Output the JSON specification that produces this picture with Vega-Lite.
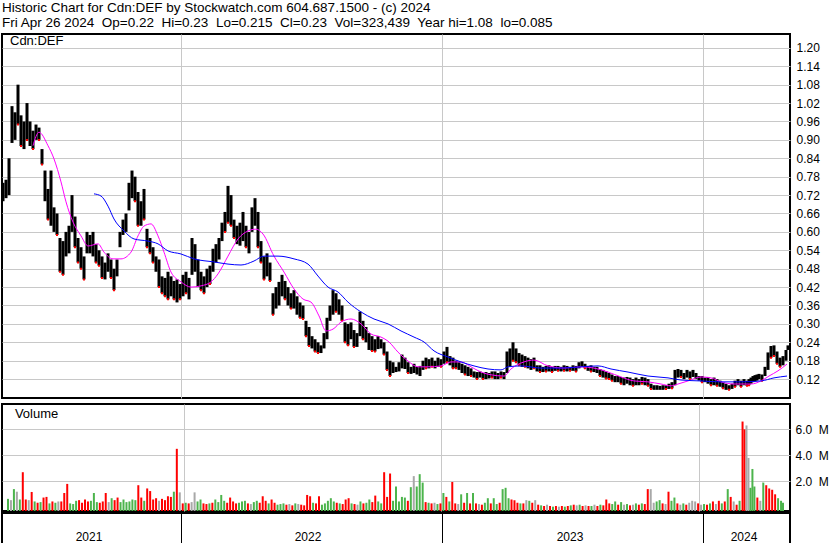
{
"$schema": "https://vega.github.io/schema/vega-lite/v6.json",
"background": "white",
"padding": {"left": 1, "top": 1, "right": 0, "bottom": 0},
"autosize": {"type": "pad"},
"config": {"view": {"stroke": "black", "strokeWidth": 2}, "font": "Liberation Sans", "axis": {"labelOverlap": false, "labelBound": false}},
"title": {"text": "Historic Chart for Cdn:DEF by Stockwatch.com 604.687.1500 - (c) 2024", "subtitle": "Fri Apr 26 2024\u00a0 Op=0.22\u00a0 Hi=0.23\u00a0 Lo=0.215\u00a0 Cl=0.23\u00a0 Vol=323,439\u00a0 Year hi=1.08\u00a0 lo=0.085", "anchor": "start", "frame": "bounds", "offset": 4, "fontSize": 13.5, "subtitleFontSize": 13.5, "fontWeight": "normal", "subtitleFontWeight": "normal", "color": "black", "subtitleColor": "black", "font": "Liberation Sans", "subtitleFont": "Liberation Sans", "subtitlePadding": 1, "dx": 1},
"datasets": {
"p": [
{"t":0,"h":0.76,"l":0.7,"v":0.65,"s":"u"},{"t":3,"h":0.77,"l":0.71,"v":0.55,"s":"n"},{"t":6,"h":0.84,"l":0.72,"v":1.4,"s":"u"},{"t":9,"h":1.01,"l":0.89,"v":1.2,"s":"n"},{"t":12,"h":0.99,"l":0.9,"v":0.6,"s":"u"},{"t":15,"h":1.08,"l":0.95,"v":2.7,"s":"d"},{"t":18,"h":0.98,"l":0.88,"v":0.6,"s":"d"},{"t":21,"h":0.96,"l":0.87,"v":0.55,"s":"n"},{"t":24,"h":1.02,"l":0.9,"v":1.18,"s":"d"},{"t":27,"h":0.96,"l":0.88,"v":0.45,"s":"u"},
{"t":30,"h":0.93,"l":0.87,"v":0.35,"s":"d"},{"t":33,"h":0.95,"l":0.9,"v":0.4,"s":"u"},{"t":36,"h":0.94,"l":0.9,"v":0.75,"s":"d"},{"t":39,"h":0.87,"l":0.82,"v":0.8,"s":"d"},{"t":42,"h":0.8,"l":0.7,"v":0.3,"s":"u"},{"t":45,"h":0.74,"l":0.64,"v":0.45,"s":"d"},{"t":48,"h":0.8,"l":0.62,"v":0.35,"s":"u"},{"t":51,"h":0.68,"l":0.6,"v":0.45,"s":"n"},{"t":54,"h":0.66,"l":0.59,"v":0.45,"s":"d"},{"t":57,"h":0.58,"l":0.47,"v":1.1,"s":"d"},
{"t":60,"h":0.57,"l":0.46,"v":1.8,"s":"d"},{"t":63,"h":0.6,"l":0.52,"v":0.3,"s":"u"},{"t":66,"h":0.62,"l":0.53,"v":0.25,"s":"u"},{"t":69,"h":0.72,"l":0.6,"v":0.5,"s":"u"},{"t":72,"h":0.65,"l":0.55,"v":0.55,"s":"d"},{"t":75,"h":0.58,"l":0.5,"v":0.35,"s":"d"},{"t":78,"h":0.55,"l":0.48,"v":0.6,"s":"d"},{"t":81,"h":0.52,"l":0.445,"v":0.45,"s":"d"},{"t":84,"h":0.6,"l":0.53,"v":0.5,"s":"u"},{"t":87,"h":0.59,"l":0.53,"v":1.1,"s":"u"},
{"t":90,"h":0.6,"l":0.52,"v":0.4,"s":"u"},{"t":93,"h":0.56,"l":0.5,"v":0.35,"s":"d"},{"t":96,"h":0.54,"l":0.49,"v":0.45,"s":"d"},{"t":99,"h":0.52,"l":0.45,"v":1.1,"s":"d"},{"t":102,"h":0.5,"l":0.445,"v":0.4,"s":"n"},{"t":105,"h":0.53,"l":0.47,"v":0.7,"s":"u"},{"t":108,"h":0.51,"l":0.45,"v":0.55,"s":"d"},{"t":111,"h":0.48,"l":0.41,"v":0.75,"s":"d"},{"t":114,"h":0.51,"l":0.455,"v":0.4,"s":"u"},{"t":117,"h":0.6,"l":0.55,"v":0.6,"s":"u"},
{"t":120,"h":0.64,"l":0.59,"v":0.4,"s":"u"},{"t":123,"h":0.66,"l":0.6,"v":0.45,"s":"u"},{"t":126,"h":0.76,"l":0.67,"v":0.6,"s":"u"},{"t":129,"h":0.8,"l":0.71,"v":0.55,"s":"u"},{"t":132,"h":0.78,"l":0.7,"v":1.7,"s":"d"},{"t":135,"h":0.73,"l":0.62,"v":0.75,"s":"d"},{"t":138,"h":0.7,"l":0.62,"v":0.5,"s":"u"},{"t":141,"h":0.74,"l":0.64,"v":1.45,"s":"d"},{"t":144,"h":0.61,"l":0.55,"v":1.25,"s":"d"},{"t":147,"h":0.58,"l":0.53,"v":0.6,"s":"d"},
{"t":150,"h":0.55,"l":0.5,"v":0.7,"s":"d"},{"t":153,"h":0.52,"l":0.47,"v":0.5,"s":"n"},{"t":156,"h":0.51,"l":0.42,"v":0.65,"s":"d"},{"t":159,"h":0.455,"l":0.4,"v":0.55,"s":"d"},{"t":162,"h":0.45,"l":0.39,"v":0.85,"s":"d"},{"t":165,"h":0.47,"l":0.38,"v":0.8,"s":"d"},{"t":168,"h":0.455,"l":0.39,"v":1.2,"s":"u"},{"t":171,"h":0.44,"l":0.38,"v":4.5,"s":"d"},{"t":174,"h":0.445,"l":0.37,"v":1.15,"s":"n"},{"t":177,"h":0.43,"l":0.38,"v":0.3,"s":"d"},
{"t":180,"h":0.46,"l":0.39,"v":0.35,"s":"u"},{"t":183,"h":0.47,"l":0.4,"v":0.3,"s":"d"},{"t":186,"h":0.45,"l":0.38,"v":0.4,"s":"n"},{"t":189,"h":0.58,"l":0.46,"v":1.15,"s":"n"},{"t":192,"h":0.56,"l":0.47,"v":0.45,"s":"u"},{"t":195,"h":0.51,"l":0.42,"v":0.6,"s":"u"},{"t":198,"h":0.47,"l":0.41,"v":0.3,"s":"d"},{"t":201,"h":0.455,"l":0.4,"v":0.25,"s":"d"},{"t":204,"h":0.48,"l":0.42,"v":0.3,"s":"u"},{"t":207,"h":0.49,"l":0.43,"v":0.35,"s":"d"},
{"t":210,"h":0.545,"l":0.47,"v":0.6,"s":"u"},{"t":213,"h":0.56,"l":0.5,"v":0.4,"s":"u"},{"t":216,"h":0.58,"l":0.51,"v":0.95,"s":"u"},{"t":219,"h":0.63,"l":0.57,"v":0.5,"s":"u"},{"t":222,"h":0.665,"l":0.6,"v":0.35,"s":"d"},{"t":225,"h":0.75,"l":0.63,"v":0.75,"s":"d"},{"t":228,"h":0.72,"l":0.62,"v":0.45,"s":"d"},{"t":231,"h":0.64,"l":0.58,"v":0.3,"s":"d"},{"t":234,"h":0.62,"l":0.56,"v":0.35,"s":"u"},{"t":237,"h":0.63,"l":0.555,"v":0.45,"s":"u"},
{"t":240,"h":0.665,"l":0.57,"v":0.5,"s":"u"},{"t":243,"h":0.62,"l":0.55,"v":0.3,"s":"d"},{"t":246,"h":0.6,"l":0.53,"v":0.25,"s":"n"},{"t":249,"h":0.68,"l":0.6,"v":0.4,"s":"u"},{"t":252,"h":0.71,"l":0.62,"v":0.5,"s":"u"},{"t":255,"h":0.665,"l":0.55,"v":0.35,"s":"d"},{"t":258,"h":0.57,"l":0.5,"v":0.85,"s":"d"},{"t":261,"h":0.52,"l":0.445,"v":0.5,"s":"d"},{"t":264,"h":0.53,"l":0.455,"v":0.3,"s":"u"},{"t":267,"h":0.5,"l":0.44,"v":0.6,"s":"d"},
{"t":270,"h":0.4,"l":0.33,"v":0.35,"s":"d"},{"t":273,"h":0.42,"l":0.35,"v":0.2,"s":"u"},{"t":276,"h":0.437,"l":0.36,"v":0.25,"s":"u"},{"t":279,"h":0.46,"l":0.39,"v":0.3,"s":"u"},{"t":282,"h":0.44,"l":0.38,"v":0.2,"s":"d"},{"t":285,"h":0.42,"l":0.36,"v":0.25,"s":"n"},{"t":288,"h":0.4,"l":0.35,"v":0.15,"s":"d"},{"t":291,"h":0.41,"l":0.35,"v":0.3,"s":"u"},{"t":294,"h":0.39,"l":0.33,"v":0.25,"s":"n"},{"t":297,"h":0.37,"l":0.32,"v":0.2,"s":"d"},
{"t":300,"h":0.36,"l":0.316,"v":0.15,"s":"d"},{"t":303,"h":0.31,"l":0.26,"v":0.95,"s":"d"},{"t":306,"h":0.29,"l":0.228,"v":0.85,"s":"d"},{"t":309,"h":0.26,"l":0.22,"v":0.35,"s":"u"},{"t":312,"h":0.25,"l":0.21,"v":0.3,"s":"d"},{"t":315,"h":0.24,"l":0.205,"v":0.85,"s":"d"},{"t":318,"h":0.23,"l":0.205,"v":0.2,"s":"u"},{"t":321,"h":0.27,"l":0.22,"v":0.3,"s":"u"},{"t":324,"h":0.32,"l":0.25,"v":0.5,"s":"u"},{"t":327,"h":0.36,"l":0.31,"v":0.7,"s":"u"},
{"t":330,"h":0.41,"l":0.33,"v":0.45,"s":"u"},{"t":333,"h":0.4,"l":0.34,"v":0.35,"s":"d"},{"t":336,"h":0.38,"l":0.33,"v":0.3,"s":"u"},{"t":339,"h":0.36,"l":0.31,"v":0.25,"s":"d"},{"t":342,"h":0.305,"l":0.24,"v":0.6,"s":"d"},{"t":345,"h":0.3,"l":0.23,"v":0.7,"s":"d"},{"t":348,"h":0.305,"l":0.25,"v":0.3,"s":"u"},{"t":351,"h":0.28,"l":0.225,"v":0.25,"s":"d"},{"t":354,"h":0.27,"l":0.225,"v":0.2,"s":"n"},{"t":357,"h":0.34,"l":0.26,"v":0.45,"s":"u"},
{"t":360,"h":0.31,"l":0.25,"v":0.3,"s":"d"},{"t":363,"h":0.29,"l":0.24,"v":0.35,"s":"u"},{"t":366,"h":0.27,"l":0.215,"v":0.6,"s":"u"},{"t":369,"h":0.26,"l":0.212,"v":0.4,"s":"d"},{"t":372,"h":0.25,"l":0.21,"v":0.9,"s":"d"},{"t":375,"h":0.26,"l":0.218,"v":0.45,"s":"u"},{"t":378,"h":0.25,"l":0.22,"v":0.3,"s":"u"},{"t":381,"h":0.24,"l":0.2,"v":2.7,"s":"d"},{"t":384,"h":0.21,"l":0.15,"v":0.8,"s":"d"},{"t":387,"h":0.18,"l":0.13,"v":2.6,"s":"d"},
{"t":390,"h":0.175,"l":0.14,"v":0.5,"s":"u"},{"t":393,"h":0.16,"l":0.143,"v":1.6,"s":"u"},{"t":396,"h":0.175,"l":0.145,"v":0.45,"s":"u"},{"t":399,"h":0.2,"l":0.155,"v":0.8,"s":"u"},{"t":402,"h":0.19,"l":0.153,"v":0.75,"s":"u"},{"t":405,"h":0.175,"l":0.14,"v":0.5,"s":"d"},{"t":408,"h":0.16,"l":0.137,"v":1.55,"s":"u"},{"t":411,"h":0.17,"l":0.14,"v":2.4,"s":"n"},{"t":414,"h":0.16,"l":0.135,"v":1.6,"s":"u"},{"t":417,"h":0.163,"l":0.13,"v":2.55,"s":"u"},
{"t":420,"h":0.18,"l":0.15,"v":1.9,"s":"u"},{"t":423,"h":0.19,"l":0.155,"v":0.4,"s":"d"},{"t":426,"h":0.185,"l":0.155,"v":0.35,"s":"u"},{"t":429,"h":0.19,"l":0.16,"v":0.3,"s":"d"},{"t":432,"h":0.18,"l":0.155,"v":0.35,"s":"n"},{"t":435,"h":0.19,"l":0.16,"v":0.25,"s":"u"},{"t":438,"h":0.185,"l":0.16,"v":0.3,"s":"d"},{"t":441,"h":0.21,"l":0.17,"v":1.1,"s":"u"},{"t":444,"h":0.225,"l":0.175,"v":0.8,"s":"d"},{"t":447,"h":0.195,"l":0.165,"v":0.45,"s":"u"},
{"t":450,"h":0.19,"l":0.155,"v":1.95,"s":"d"},{"t":453,"h":0.18,"l":0.155,"v":0.3,"s":"d"},{"t":456,"h":0.175,"l":0.15,"v":0.25,"s":"n"},{"t":459,"h":0.17,"l":0.14,"v":1.0,"s":"u"},{"t":462,"h":0.165,"l":0.135,"v":0.35,"s":"d"},{"t":465,"h":0.16,"l":0.13,"v":1.1,"s":"u"},{"t":468,"h":0.155,"l":0.13,"v":0.3,"s":"d"},{"t":471,"h":0.145,"l":0.125,"v":1.1,"s":"u"},{"t":474,"h":0.143,"l":0.12,"v":0.3,"s":"d"},{"t":477,"h":0.145,"l":0.125,"v":0.25,"s":"n"},
{"t":480,"h":0.14,"l":0.12,"v":0.2,"s":"d"},{"t":483,"h":0.143,"l":0.12,"v":0.35,"s":"u"},{"t":486,"h":0.14,"l":0.122,"v":0.7,"s":"u"},{"t":489,"h":0.145,"l":0.125,"v":0.3,"s":"d"},{"t":492,"h":0.145,"l":0.12,"v":0.7,"s":"u"},{"t":495,"h":0.14,"l":0.12,"v":0.25,"s":"u"},{"t":498,"h":0.145,"l":0.125,"v":0.35,"s":"d"},{"t":501,"h":0.143,"l":0.12,"v":1.4,"s":"u"},{"t":504,"h":0.21,"l":0.14,"v":1.5,"s":"u"},{"t":507,"h":0.22,"l":0.16,"v":0.7,"s":"u"},
{"t":510,"h":0.24,"l":0.18,"v":0.6,"s":"d"},{"t":513,"h":0.22,"l":0.175,"v":0.55,"s":"d"},{"t":516,"h":0.205,"l":0.165,"v":0.35,"s":"d"},{"t":519,"h":0.2,"l":0.16,"v":0.3,"s":"u"},{"t":522,"h":0.195,"l":0.16,"v":0.3,"s":"d"},{"t":525,"h":0.19,"l":0.155,"v":0.55,"s":"n"},{"t":528,"h":0.185,"l":0.15,"v":0.5,"s":"u"},{"t":531,"h":0.19,"l":0.155,"v":0.35,"s":"d"},{"t":534,"h":0.165,"l":0.145,"v":0.55,"s":"n"},{"t":537,"h":0.165,"l":0.143,"v":0.2,"s":"d"},
{"t":540,"h":0.16,"l":0.143,"v":0.15,"s":"u"},{"t":543,"h":0.163,"l":0.145,"v":0.1,"s":"d"},{"t":546,"h":0.165,"l":0.145,"v":0.2,"s":"n"},{"t":549,"h":0.16,"l":0.143,"v":0.1,"s":"d"},{"t":552,"h":0.163,"l":0.147,"v":0.05,"s":"u"},{"t":555,"h":0.163,"l":0.147,"v":0.1,"s":"d"},{"t":558,"h":0.16,"l":0.145,"v":0.05,"s":"n"},{"t":561,"h":0.165,"l":0.147,"v":0.1,"s":"d"},{"t":564,"h":0.163,"l":0.145,"v":0.05,"s":"u"},{"t":567,"h":0.16,"l":0.147,"v":0.1,"s":"d"},
{"t":570,"h":0.165,"l":0.147,"v":0.15,"s":"u"},{"t":573,"h":0.163,"l":0.145,"v":0.2,"s":"d"},{"t":576,"h":0.175,"l":0.155,"v":0.15,"s":"n"},{"t":579,"h":0.178,"l":0.16,"v":0.2,"s":"u"},{"t":582,"h":0.17,"l":0.155,"v":0.1,"s":"d"},{"t":585,"h":0.163,"l":0.147,"v":0.15,"s":"n"},{"t":588,"h":0.165,"l":0.145,"v":0.1,"s":"d"},{"t":591,"h":0.16,"l":0.143,"v":0.1,"s":"u"},{"t":594,"h":0.16,"l":0.14,"v":0.2,"s":"n"},{"t":597,"h":0.153,"l":0.13,"v":0.1,"s":"d"},
{"t":600,"h":0.15,"l":0.125,"v":0.2,"s":"u"},{"t":603,"h":0.145,"l":0.122,"v":0.15,"s":"d"},{"t":606,"h":0.14,"l":0.12,"v":0.6,"s":"d"},{"t":609,"h":0.135,"l":0.115,"v":0.3,"s":"d"},{"t":612,"h":0.13,"l":0.11,"v":0.25,"s":"u"},{"t":615,"h":0.13,"l":0.11,"v":0.45,"s":"u"},{"t":618,"h":0.127,"l":0.105,"v":0.2,"s":"d"},{"t":621,"h":0.125,"l":0.1,"v":0.4,"s":"u"},{"t":624,"h":0.127,"l":0.105,"v":0.2,"s":"n"},{"t":627,"h":0.125,"l":0.1,"v":0.25,"s":"u"},
{"t":630,"h":0.12,"l":0.098,"v":0.15,"s":"d"},{"t":633,"h":0.125,"l":0.1,"v":0.2,"s":"n"},{"t":636,"h":0.12,"l":0.1,"v":0.3,"s":"u"},{"t":639,"h":0.127,"l":0.105,"v":0.2,"s":"d"},{"t":642,"h":0.125,"l":0.1,"v":0.3,"s":"u"},{"t":645,"h":0.12,"l":0.098,"v":0.25,"s":"d"},{"t":648,"h":0.105,"l":0.088,"v":1.4,"s":"d"},{"t":651,"h":0.1,"l":0.085,"v":1.4,"s":"n"},{"t":654,"h":0.1,"l":0.085,"v":0.35,"s":"n"},{"t":657,"h":0.098,"l":0.085,"v":0.45,"s":"u"},
{"t":660,"h":0.1,"l":0.085,"v":0.55,"s":"u"},{"t":663,"h":0.1,"l":0.088,"v":0.3,"s":"d"},{"t":666,"h":0.105,"l":0.088,"v":0.25,"s":"n"},{"t":669,"h":0.11,"l":0.09,"v":1.2,"s":"d"},{"t":672,"h":0.15,"l":0.1,"v":0.5,"s":"u"},{"t":675,"h":0.153,"l":0.125,"v":0.75,"s":"u"},{"t":678,"h":0.15,"l":0.127,"v":0.3,"s":"d"},{"t":681,"h":0.14,"l":0.12,"v":0.2,"s":"n"},{"t":684,"h":0.15,"l":0.125,"v":0.3,"s":"u"},{"t":687,"h":0.145,"l":0.12,"v":0.2,"s":"d"},
{"t":690,"h":0.15,"l":0.127,"v":0.35,"s":"n"},{"t":693,"h":0.14,"l":0.12,"v":0.5,"s":"n"},{"t":696,"h":0.13,"l":0.115,"v":0.45,"s":"n"},{"t":699,"h":0.13,"l":0.11,"v":0.3,"s":"d"},{"t":702,"h":0.125,"l":0.11,"v":0.2,"s":"n"},{"t":705,"h":0.127,"l":0.105,"v":0.25,"s":"u"},{"t":708,"h":0.12,"l":0.1,"v":0.2,"s":"d"},{"t":711,"h":0.125,"l":0.1,"v":0.3,"s":"u"},{"t":714,"h":0.12,"l":0.098,"v":0.45,"s":"d"},{"t":717,"h":0.115,"l":0.095,"v":0.25,"s":"n"},
{"t":720,"h":0.11,"l":0.09,"v":0.5,"s":"d"},{"t":723,"h":0.105,"l":0.085,"v":0.3,"s":"u"},{"t":726,"h":0.1,"l":0.085,"v":0.45,"s":"d"},{"t":729,"h":0.105,"l":0.088,"v":1.4,"s":"u"},{"t":732,"h":0.115,"l":0.095,"v":0.8,"s":"d"},{"t":735,"h":0.12,"l":0.1,"v":0.45,"s":"n"},{"t":738,"h":0.115,"l":0.095,"v":0.2,"s":"d"},{"t":741,"h":0.12,"l":0.1,"v":0.5,"s":"u"},{"t":744,"h":0.115,"l":0.098,"v":6.6,"s":"d"},{"t":746,"h":0.12,"l":0.1,"v":6.0,"s":"d"},
{"t":748,"h":0.125,"l":0.105,"v":6.3,"s":"n"},{"t":750,"h":0.13,"l":0.11,"v":3.8,"s":"n"},{"t":752,"h":0.133,"l":0.112,"v":1.5,"s":"u"},{"t":754,"h":0.135,"l":0.115,"v":2.95,"s":"u"},{"t":756,"h":0.137,"l":0.12,"v":1.6,"s":"u"},{"t":759,"h":0.135,"l":0.115,"v":0.75,"s":"d"},{"t":762,"h":0.16,"l":0.13,"v":0.5,"s":"n"},{"t":765,"h":0.207,"l":0.15,"v":1.9,"s":"u"},{"t":768,"h":0.228,"l":0.19,"v":1.7,"s":"d"},{"t":771,"h":0.23,"l":0.195,"v":1.45,"s":"d"},
{"t":774,"h":0.21,"l":0.17,"v":1.35,"s":"d"},{"t":777,"h":0.19,"l":0.16,"v":1.0,"s":"d"},{"t":780,"h":0.195,"l":0.165,"v":0.7,"s":"u"},{"t":783,"h":0.215,"l":0.18,"v":0.5,"s":"u"},{"t":785,"h":0.23,"l":0.215,"v":0.35,"s":"u"}
],
"m1": [{"t":30,"p":0.881},{"t":36,"p":0.925},{"t":45,"p":0.881},{"t":51,"p":0.838},{"t":58,"p":0.763},{"t":63,"p":0.698},{"t":70,"p":0.632},{"t":78,"p":0.587},{"t":85,"p":0.554},{"t":95,"p":0.561},{"t":101,"p":0.534},{"t":110,"p":0.512},{"t":118,"p":0.512},{"t":128,"p":0.534},{"t":135,"p":0.587},{"t":141,"p":0.619},{"t":148,"p":0.626},{"t":155,"p":0.587},{"t":161,"p":0.534},{"t":168,"p":0.469},{"t":178,"p":0.437},{"t":188,"p":0.42},{"t":198,"p":0.424},{"t":208,"p":0.437},{"t":215,"p":0.463},{"t":225,"p":0.521},{"t":235,"p":0.577},{"t":245,"p":0.603},{"t":253,"p":0.609},{"t":260,"p":0.593},{"t":271,"p":0.521},{"t":281,"p":0.469},{"t":291,"p":0.414},{"t":300,"p":0.381},{"t":308,"p":0.371},{"t":316,"p":0.326},{"t":323,"p":0.277},{"t":330,"p":0.283},{"t":338,"p":0.306},{"t":348,"p":0.316},{"t":358,"p":0.3},{"t":368,"p":0.267},{"t":378,"p":0.257},{"t":386,"p":0.241},{"t":395,"p":0.208},{"t":405,"p":0.179},{"t":415,"p":0.16},{"t":425,"p":0.16},{"t":438,"p":0.163},{"t":448,"p":0.176},{"t":458,"p":0.176},{"t":468,"p":0.16},{"t":478,"p":0.143},{"t":488,"p":0.134},{"t":501,"p":0.13},{"t":508,"p":0.153},{"t":521,"p":0.176},{"t":531,"p":0.182},{"t":545,"p":0.163},{"t":561,"p":0.156},{"t":578,"p":0.16},{"t":591,"p":0.156},{"t":605,"p":0.143},{"t":618,"p":0.127},{"t":631,"p":0.114},{"t":645,"p":0.111},{"t":658,"p":0.104},{"t":668,"p":0.098},{"t":675,"p":0.104},{"t":685,"p":0.114},{"t":698,"p":0.127},{"t":708,"p":0.124},{"t":718,"p":0.111},{"t":731,"p":0.104},{"t":748,"p":0.104},{"t":758,"p":0.114},{"t":766,"p":0.13},{"t":775,"p":0.147},{"t":784,"p":0.169}],
"m2": [{"t":91,"p":0.724},{"t":98,"p":0.717},{"t":105,"p":0.684},{"t":111,"p":0.642},{"t":121,"p":0.603},{"t":131,"p":0.577},{"t":145,"p":0.57},{"t":155,"p":0.561},{"t":165,"p":0.538},{"t":178,"p":0.528},{"t":191,"p":0.512},{"t":211,"p":0.502},{"t":225,"p":0.495},{"t":238,"p":0.492},{"t":251,"p":0.505},{"t":261,"p":0.521},{"t":275,"p":0.521},{"t":291,"p":0.512},{"t":305,"p":0.495},{"t":315,"p":0.456},{"t":325,"p":0.42},{"t":335,"p":0.404},{"t":345,"p":0.371},{"t":358,"p":0.339},{"t":371,"p":0.316},{"t":385,"p":0.3},{"t":398,"p":0.277},{"t":411,"p":0.257},{"t":421,"p":0.241},{"t":431,"p":0.212},{"t":445,"p":0.192},{"t":458,"p":0.176},{"t":471,"p":0.163},{"t":485,"p":0.153},{"t":498,"p":0.15},{"t":505,"p":0.16},{"t":518,"p":0.163},{"t":538,"p":0.156},{"t":558,"p":0.156},{"t":578,"p":0.16},{"t":595,"p":0.163},{"t":608,"p":0.153},{"t":625,"p":0.143},{"t":645,"p":0.13},{"t":665,"p":0.124},{"t":678,"p":0.117},{"t":698,"p":0.114},{"t":718,"p":0.111},{"t":738,"p":0.111},{"t":758,"p":0.114},{"t":771,"p":0.124},{"t":784,"p":0.13}],
"yr": [{"y":"2021","m":86},{"y":"2022","m":305},{"y":"2023","m":567},{"y":"2024","m":741}]
},
"spacing": 4,
"vconcat": [
{
"width": 788, "height": 364,
"layer": [
{"data": {"name": "p"}, "mark": {"type": "rule", "color": "black", "strokeWidth": 3, "clip": true},
 "encoding": {
  "x": {"field": "t", "type": "quantitative", "scale": {"domain": [-1, 787], "nice": false, "zero": false}, "axis": {"values": [178, 439, 700], "tickCount": 10, "grid": true, "gridColor": "#c8c8c8", "labels": false, "ticks": false, "domain": false, "title": null}},
  "y": {"field": "l", "type": "quantitative", "scale": {"domain": [0.0584, 1.2452], "nice": false, "zero": false}, "axis": {"orient": "right", "values": [0.12,0.18,0.24,0.3,0.36,0.42,0.48,0.54,0.6,0.66,0.72,0.78,0.84,0.9,0.96,1.02,1.08,1.14,1.2], "tickCount": 40, "format": ".2f", "grid": true, "gridColor": "#c8c8c8", "domain": false, "ticks": false, "labelPadding": 6, "labelFontSize": 12, "labelColor": "black", "labelFont": "Liberation Sans", "labelOverlap": false, "labelBound": false, "title": null}},
  "y2": {"field": "h"}}},
{"data": {"name": "p"}, "transform": [{"filter": "datum.s == 'd'"}], "mark": {"type": "square", "color": "#ff0000", "size": 4, "opacity": 1, "filled": true},
 "encoding": {"x": {"field": "t", "type": "quantitative"}, "y": {"field": "l", "type": "quantitative"}}},
{"data": {"name": "m1"}, "mark": {"type": "line", "color": "#ff00ff", "strokeWidth": 1, "interpolate": "monotone"},
 "encoding": {"x": {"field": "t", "type": "quantitative"}, "y": {"field": "p", "type": "quantitative"}}},
{"data": {"name": "m2"}, "mark": {"type": "line", "color": "#0000ff", "strokeWidth": 1, "interpolate": "monotone"},
 "encoding": {"x": {"field": "t", "type": "quantitative"}, "y": {"field": "p", "type": "quantitative"}}},
{"data": {"values": [{"n": "Cdn:DEF"}]}, "mark": {"type": "text", "align": "left", "baseline": "middle", "fontSize": 13, "color": "black", "font": "Liberation Sans"},
 "encoding": {"x": {"datum": 7}, "y": {"datum": 1.222}, "text": {"field": "n"}}}
]
},
{
"spacing": 0,
"vconcat": [
{
"width": 788, "height": 107,
"layer": [
{"data": {"name": "p"}, "mark": {"type": "bar", "width": 2},
 "encoding": {
  "x": {"field": "t", "type": "quantitative", "scale": {"domain": [-1, 787], "nice": false, "zero": false}, "axis": {"values": [178, 439, 700], "tickCount": 10, "grid": true, "gridColor": "#c8c8c8", "labels": false, "ticks": false, "domain": false, "title": null}},
  "y": {"field": "v", "type": "quantitative", "scale": {"domain": [-0.285, 7.95], "nice": false, "zero": false}, "axis": {"orient": "right", "values": [2, 4, 6], "tickCount": 10, "labelExpr": "format(datum.value, '.1f') + '\u00a0 M'", "grid": true, "gridColor": "#c8c8c8", "domain": false, "ticks": false, "labelPadding": 5, "labelFontSize": 12, "labelColor": "black", "labelFont": "Liberation Sans", "title": null}},
  "y2": {"datum": -0.285},
  "color": {"field": "s", "type": "nominal", "scale": {"domain": ["u", "d", "n"], "range": ["#4cb44c", "#ff0000", "#a8a8a8"]}, "legend": null}}},
{"data": {"values": [{"n": "Volume"}]}, "mark": {"type": "text", "align": "left", "baseline": "middle", "fontSize": 13, "color": "black", "font": "Liberation Sans"},
 "encoding": {"x": {"datum": 7}, "y": {"datum": 7.18}, "text": {"field": "n"}}}
]
},
{
"width": 788, "height": 32,
"layer": [
{"data": {"name": "yr"}, "mark": {"type": "text", "align": "center", "baseline": "middle", "fontSize": 12, "color": "black", "font": "Liberation Sans"},
 "encoding": {
  "x": {"field": "m", "type": "quantitative", "scale": {"domain": [-1, 787], "nice": false, "zero": false}, "axis": {"values": [178, 439, 700], "tickCount": 10, "grid": true, "gridColor": "black", "gridWidth": 1, "gridOpacity": 1, "labels": false, "ticks": false, "domain": false, "title": null}},
  "y": {"datum": 0.26, "type": "quantitative", "scale": {"domain": [0, 1], "nice": false, "zero": false}, "axis": null},
  "text": {"field": "y"}}},
{"mark": {"type": "rule", "color": "black", "strokeWidth": 2}, "encoding": {"y": {"datum": 0.5}}}
]
}
]
}
]
}
